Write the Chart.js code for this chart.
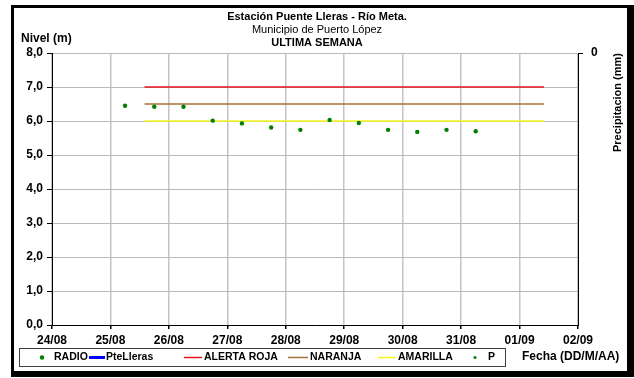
<!DOCTYPE html>
<html lang="es">
<head>
<meta charset="utf-8">
<title>Estación Puente Lleras - Río Meta</title>
<script src="https://cdn.jsdelivr.net/npm/chart.js@4/dist/chart.umd.min.js"></script>
<style>
  html, body { margin: 0; padding: 0; background: #fff; }
  #grafico { display: block; }
</style>
</head>
<body>
<canvas id="grafico" width="634" height="378"></canvas>
<script>
// Datos (nivel en metros, fechas DD/MM HH:MM)
const diasEje = ["24/08", "25/08", "26/08", "27/08", "28/08", "29/08", "30/08", "31/08", "01/09", "02/09"];

const radioFechas = [
  "25/08 06:00", "25/08 18:00", "26/08 06:00", "26/08 18:00", "27/08 06:00",
  "27/08 18:00", "28/08 06:00", "28/08 18:00", "29/08 06:00", "29/08 18:00",
  "30/08 06:00", "30/08 18:00", "31/08 06:00",
];
const radioNivel = [6.45, 6.42, 6.42, 6.01, 5.93, 5.81, 5.74, 6.03, 5.94, 5.74, 5.68, 5.74, 5.70];

// sin registros en la semana
const pteLlerasFechas = [];
const pteLlerasNivel = [];
const precipFechas = [];
const precipValores = [];

// umbrales de alerta
const umbralDesde = "25/08 14:00";
const umbralHasta = "01/09 10:00";
const alertaRoja = 7.0;
const alertaNaranja = 6.5;
const alertaAmarilla = 6.0;

const FUENTE = "Arial, 'Liberation Sans', sans-serif";

// dias transcurridos desde el 24/08 a las 00:00
function fechaADia(texto) {
  const [fecha, hora] = texto.split(" ");
  const [dd, mm] = fecha.split("/").map(Number);
  const [hh, mi] = (hora || "00:00").split(":").map(Number);
  const base = Date.UTC(2000, 7, 24);
  return (Date.UTC(2000, mm - 1, dd, hh, mi) - base) / 86400000;
}

function puntos(fechas, valores) {
  return fechas.map((f, i) => ({ x: fechaADia(f), y: valores[i] }));
}

function umbral(valor) {
  return puntos([umbralDesde, umbralHasta], [valor, valor]);
}

// marco negro del grafico (como en Excel)
const marco = {
  id: "marco",
  beforeDraw(chart) {
    const ctx = chart.ctx;
    ctx.save();
    ctx.fillStyle = "#000";
    ctx.fillRect(11, 5, 623, 372);
    ctx.fillStyle = "#fff";
    ctx.fillRect(14, 8, 613, 363);
    ctx.restore();
  },
};

// titulos y textos sueltos
const textos = {
  id: "textos",
  afterDraw(chart) {
    const ctx = chart.ctx;
    ctx.save();
    ctx.fillStyle = "#000";
    ctx.textBaseline = "middle";
    ctx.textAlign = "center";
    ctx.font = "bold 11px " + FUENTE;
    ctx.fillText("Estación Puente Lleras - Río Meta.", 317, 17);
    ctx.font = "11px " + FUENTE;
    ctx.fillText("Municipio de Puerto López", 317, 30);
    ctx.font = "bold 11px " + FUENTE;
    ctx.fillText("ULTIMA SEMANA", 317, 43);

    ctx.textAlign = "left";
    ctx.font = "bold 12px " + FUENTE;
    ctx.fillText("Nivel (m)", 21, 39);
    ctx.fillText("Fecha (DD/M/AA)", 522, 357);

    ctx.translate(618, 53);
    ctx.rotate(-Math.PI / 2);
    ctx.textAlign = "right";
    ctx.font = "bold 11px " + FUENTE;
    ctx.fillText("Precipitacion (mm)", 0, 0);
    ctx.restore();
  },
};

// leyenda en recuadro, a partir de los datasets
const posLeyenda = [
  { a: 38, b: 46, t: 54 },
  { a: 89, b: 105, t: 106 },
  { a: 184, b: 202, t: 204 },
  { a: 288, b: 308, t: 310 },
  { a: 378, b: 396, t: 398 },
  { a: 471, b: 479, t: 488 },
];
const leyenda = {
  id: "leyenda",
  afterDraw(chart) {
    const ctx = chart.ctx;
    const cy = 357.5;
    ctx.save();
    ctx.strokeStyle = "#404040";
    ctx.lineWidth = 1;
    ctx.strokeRect(19.5, 348.5, 486, 18);
    ctx.font = "bold 10.5px " + FUENTE;
    ctx.textBaseline = "middle";
    ctx.textAlign = "left";
    chart.data.datasets.forEach((ds, i) => {
      const p = posLeyenda[i];
      if (ds.showLine) {
        ctx.strokeStyle = ds.borderColor;
        ctx.lineWidth = ds.borderWidth;
        ctx.beginPath();
        ctx.moveTo(p.a, cy);
        ctx.lineTo(p.b, cy);
        ctx.stroke();
      } else {
        ctx.fillStyle = ds.pointBackgroundColor;
        ctx.beginPath();
        ctx.arc((p.a + p.b) / 2, cy, ds.pointRadius, 0, Math.PI * 2);
        ctx.fill();
      }
      ctx.fillStyle = "#000";
      ctx.fillText(ds.label, p.t, cy);
    });
    ctx.restore();
  },
};

const ctx = document.getElementById("grafico").getContext("2d");
new Chart(ctx, {
  type: "scatter",
  data: {
    datasets: [
      {
        label: "RADIO",
        data: puntos(radioFechas, radioNivel),
        showLine: false,
        pointRadius: 2.2,
        pointBackgroundColor: "#008000",
        pointBorderColor: "#008000",
        pointBorderWidth: 0,
      },
      {
        label: "PteLleras",
        data: puntos(pteLlerasFechas, pteLlerasNivel),
        showLine: true,
        borderColor: "#0000ff",
        borderWidth: 3,
        pointRadius: 0,
      },
      {
        label: "ALERTA ROJA",
        data: umbral(alertaRoja),
        showLine: true,
        borderColor: "#e8141c",
        borderWidth: 1.5,
        pointRadius: 0,
      },
      {
        label: "NARANJA",
        data: umbral(alertaNaranja),
        showLine: true,
        borderColor: "#a8703c",
        borderWidth: 1.5,
        pointRadius: 0,
      },
      {
        label: "AMARILLA",
        data: umbral(alertaAmarilla),
        showLine: true,
        borderColor: "#f5f520",
        borderWidth: 1.5,
        pointRadius: 0,
      },
      {
        label: "P",
        data: puntos(precipFechas, precipValores),
        yAxisID: "y2",
        showLine: false,
        pointRadius: 1.5,
        pointBackgroundColor: "#008000",
        pointBorderWidth: 0,
      },
    ],
  },
  options: {
    responsive: false,
    animation: false,
    devicePixelRatio: 1,
    layout: { padding: { top: 53, left: 0, right: 0, bottom: 0 } },
    plugins: {
      legend: { display: false },
      title: { display: false },
      tooltip: { enabled: false },
    },
    scales: {
      x: {
        type: "linear",
        min: 0,
        max: diasEje.length - 1,
        afterFit: (s) => { s.height = 53; },
        afterBuildTicks: (s) => { s.ticks = diasEje.map((_, i) => ({ value: i })); },
        ticks: {
          callback: (v) => diasEje[v],
          color: "#000",
          font: { family: FUENTE, size: 12, weight: "bold" },
          padding: 4,
          maxRotation: 0,
        },
        grid: { color: "#c4c4c4", lineWidth: 1.5, tickLength: 4, tickColor: "#000" },
        border: { color: "#000", width: 1 },
      },
      y: {
        min: 0,
        max: 8,
        afterFit: (s) => { s.width = 52; },
        ticks: {
          stepSize: 1,
          callback: (v) => v.toFixed(1).replace(".", ","),
          color: "#000",
          font: { family: FUENTE, size: 12, weight: "bold" },
          padding: 4,
        },
        grid: { color: "#b8b8b8", lineWidth: 1, tickLength: 5, tickColor: "#000" },
        border: { color: "#000", width: 1 },
      },
      y2: {
        position: "right",
        min: 0,
        max: 1,
        reverse: true,
        afterFit: (s) => { s.width = 56; },
        ticks: {
          stepSize: 1,
          callback: (v) => (v === 0 ? "0" : ""),
          color: "#000",
          font: { family: FUENTE, size: 12, weight: "bold" },
          padding: 8,
        },
        grid: {
          drawOnChartArea: false,
          tickLength: 5,
          tickColor: (c) => (c.tick && c.tick.value === 0 ? "#000" : "rgba(0,0,0,0)"),
        },
        border: { color: "#000", width: 1 },
      },
    },
  },
  plugins: [marco, textos, leyenda],
});
</script>
</body>
</html>
